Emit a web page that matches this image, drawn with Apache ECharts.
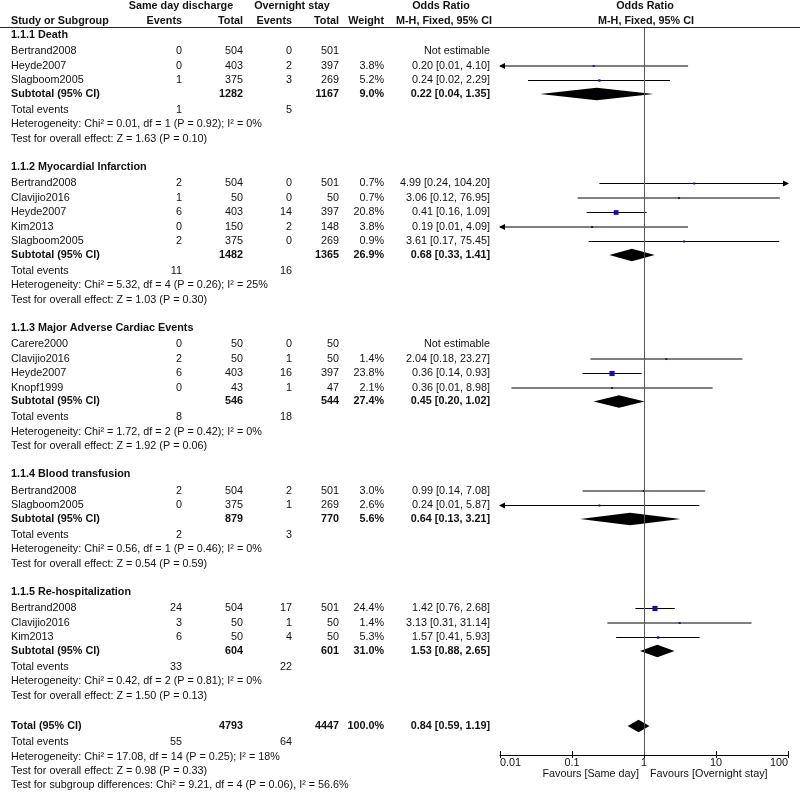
<!DOCTYPE html>
<html>
<head>
<meta charset="utf-8">
<script src="https://cdn.jsdelivr.net/npm/echarts/dist/echarts.min.js"></script>
<style>
html,body{margin:0;padding:0;background:#fff;}
#chart{width:800px;height:792px;}
</style>
</head>
<body>
<div id="chart"></div>
<script>
// ---------------- DATA ----------------
const groupTitles = ['1.1.1 Death', '1.1.2 Myocardial Infarction', '1.1.3 Major Adverse Cardiac Events', '1.1.4 Blood transfusion', '1.1.5 Re-hospitalization'];
const studyNames = [
  ['Bertrand2008', 'Heyde2007', 'Slagboom2005'],
  ['Bertrand2008', 'Clavijio2016', 'Heyde2007', 'Kim2013', 'Slagboom2005'],
  ['Carere2000', 'Clavijio2016', 'Heyde2007', 'Knopf1999'],
  ['Bertrand2008', 'Slagboom2005'],
  ['Bertrand2008', 'Clavijio2016', 'Kim2013']
];
const sameEvents = [[0, 0, 1], [2, 1, 6, 0, 2], [0, 2, 6, 0], [2, 0], [24, 3, 6]];
const sameTotal = [[504, 403, 375], [504, 50, 403, 150, 375], [50, 50, 403, 43], [504, 375], [504, 50, 50]];
const overEvents = [[0, 2, 3], [0, 0, 14, 2, 0], [0, 1, 16, 1], [2, 1], [17, 1, 4]];
const overTotal = [[501, 397, 269], [501, 50, 397, 148, 269], [50, 50, 397, 47], [501, 269], [501, 50, 50]];
const weightPct = [[null, 3.8, 5.2], [0.7, 0.7, 20.8, 3.8, 0.9], [null, 1.4, 23.8, 2.1], [3.0, 2.6], [24.4, 1.4, 5.3]];
const oddsRatio = [[null, 0.20, 0.24], [4.99, 3.06, 0.41, 0.19, 3.61], [null, 2.04, 0.36, 0.36], [0.99, 0.24], [1.42, 3.13, 1.57]];
const ciLower = [[null, 0.0098, 0.0245], [0.24, 0.12, 0.16, 0.0088, 0.17], [null, 0.18, 0.14, 0.0144], [0.14, 0.0098], [0.76, 0.31, 0.41]];
const ciUpper = [[null, 4.10, 2.29], [104.20, 76.95, 1.09, 4.09, 75.45], [null, 23.27, 0.93, 8.98], [7.08, 5.87], [2.68, 31.14, 5.93]];

const subSameTotal = [1282, 1482, 546, 879, 604];
const subOverTotal = [1167, 1365, 544, 770, 601];
const subWeight = [9.0, 26.9, 27.4, 5.6, 31.0];
const subOR = [0.22, 0.68, 0.45, 0.64, 1.53];
const subLower = [0.036, 0.33, 0.20, 0.13, 0.88];
const subUpper = [1.35, 1.41, 1.02, 3.21, 2.65];
const groupEventsSame = [1, 11, 8, 2, 33];
const groupEventsOver = [5, 16, 18, 3, 22];
const heterogeneity = [
  'Chi² = 0.01, df = 1 (P = 0.92); I² = 0%',
  'Chi² = 5.32, df = 4 (P = 0.26); I² = 25%',
  'Chi² = 1.72, df = 2 (P = 0.42); I² = 0%',
  'Chi² = 0.56, df = 1 (P = 0.46); I² = 0%',
  'Chi² = 0.42, df = 2 (P = 0.81); I² = 0%'
];
const overallEffect = ['Z = 1.63 (P = 0.10)', 'Z = 1.03 (P = 0.30)', 'Z = 1.92 (P = 0.06)', 'Z = 0.54 (P = 0.59)', 'Z = 1.50 (P = 0.13)'];

const totalSame = [4793];
const totalOver = [4447];
const totalWeight = [100.0];
const totalOR = [0.84];
const totalLower = [0.593];
const totalUpper = [1.19];
const totalEventsSame = [55];
const totalEventsOver = [64];
const totalHeterogeneity = ['Chi² = 17.08, df = 14 (P = 0.25); I² = 18%'];
const totalEffect = ['Z = 0.98 (P = 0.33)'];
const subgroupDiff = ['Chi² = 9.21, df = 4 (P = 0.06), I² = 56.6%'];

const axisTickValues = [0.01, 0.1, 1, 10, 100];
const axisTickLabels = ['0.01', '0.1', '1', '10', '100'];
const favoursLabels = ['Favours [Same day]', 'Favours [Overnight stay]'];

// ---------------- LAYOUT ----------------
const FONT = '"Liberation Sans", Arial, Helvetica, sans-serif';
const FSIZE = 10.8;
const COL = {name: 11, sameEv: 182, sameTot: 243, overEv: 292, overTot: 339, weight: 384, orText: 490,
  hdrSame: 181, hdrOver: 292, hdrOR1: 441, hdrOR2: 645};
const TEXT_COLOR = '#111';

const cells = [];
function addText(x, y, text, align, bold) { cells.push({x, y, text: String(text), align, bold: !!bold}); }
function fmtOR(o, l, u) { return o.toFixed(2) + ' [' + l.toFixed(2) + ', ' + u.toFixed(2) + ']'; }

// header
addText(COL.hdrSame, 6, 'Same day discharge', 'center', true);
addText(COL.hdrOver, 6, 'Overnight stay', 'center', true);
addText(COL.hdrOR1, 6, 'Odds Ratio', 'center', true);
addText(COL.hdrOR2, 6, 'Odds Ratio', 'center', true);
addText(COL.name, 21, 'Study or Subgroup', 'left', true);
addText(COL.sameEv, 21, 'Events', 'right', true);
addText(COL.sameTot, 21, 'Total', 'right', true);
addText(COL.overEv, 21, 'Events', 'right', true);
addText(COL.overTot, 21, 'Total', 'right', true);
addText(COL.weight, 21, 'Weight', 'right', true);
addText(COL.hdrOR1 + 3, 21, 'M-H, Fixed, 95% CI', 'center', true);
addText(COL.hdrOR2 + 1, 21, 'M-H, Fixed, 95% CI', 'center', true);

const studyPts = [];
const diamondPts = [];
let y = 35;
groupTitles.forEach((title, g) => {
  if (g > 0) y += 28;
  addText(COL.name, y, title, 'left', true);
  y += 16.5;
  studyNames[g].forEach((nm, s) => {
    addText(COL.name, y, nm, 'left');
    addText(COL.sameEv, y, sameEvents[g][s], 'right');
    addText(COL.sameTot, y, sameTotal[g][s], 'right');
    addText(COL.overEv, y, overEvents[g][s], 'right');
    addText(COL.overTot, y, overTotal[g][s], 'right');
    if (oddsRatio[g][s] == null) {
      addText(COL.orText, y, 'Not estimable', 'right');
    } else {
      addText(COL.weight, y, weightPct[g][s].toFixed(1) + '%', 'right');
      addText(COL.orText, y, fmtOR(oddsRatio[g][s], ciLower[g][s], ciUpper[g][s]), 'right');
      studyPts.push([oddsRatio[g][s], y, ciLower[g][s], ciUpper[g][s], weightPct[g][s]]);
    }
    y += 14.5;
  });
  y -= 1;
  addText(COL.name, y, 'Subtotal (95% CI)', 'left', true);
  addText(COL.sameTot, y, subSameTotal[g], 'right', true);
  addText(COL.overTot, y, subOverTotal[g], 'right', true);
  addText(COL.weight, y, subWeight[g].toFixed(1) + '%', 'right', true);
  addText(COL.orText, y, fmtOR(subOR[g], subLower[g], subUpper[g]), 'right', true);
  diamondPts.push([subOR[g], y, subLower[g], subUpper[g]]);
  y += 16;
  addText(COL.name, y, 'Total events', 'left');
  addText(COL.sameEv, y, groupEventsSame[g], 'right');
  addText(COL.overEv, y, groupEventsOver[g], 'right');
  y += 14.5;
  addText(COL.name, y, 'Heterogeneity: ' + heterogeneity[g], 'left');
  y += 14.5;
  addText(COL.name, y, 'Test for overall effect: ' + overallEffect[g], 'left');
});
y += 30;
addText(COL.name, y, 'Total (95% CI)', 'left', true);
addText(COL.sameTot, y, totalSame[0], 'right', true);
addText(COL.overTot, y, totalOver[0], 'right', true);
addText(COL.weight, y, totalWeight[0].toFixed(1) + '%', 'right', true);
addText(COL.orText, y, fmtOR(totalOR[0], totalLower[0], totalUpper[0]), 'right', true);
diamondPts.push([totalOR[0], y, totalLower[0], totalUpper[0]]);
y += 16;
addText(COL.name, y, 'Total events', 'left');
addText(COL.sameEv, y, totalEventsSame[0], 'right');
addText(COL.overEv, y, totalEventsOver[0], 'right');
y += 15;
addText(COL.name, y, 'Heterogeneity: ' + totalHeterogeneity[0], 'left');
y += 14.5;
addText(COL.name, y, 'Test for overall effect: ' + totalEffect[0], 'left');
y += 14;
addText(COL.name, y, 'Test for subgroup differences: ' + subgroupDiff[0], 'left');
// favours labels under axis
addText(639, 774, favoursLabels[0], 'right');
addText(650, 774, favoursLabels[1], 'left');

// ---------------- CHART ----------------
const AX_MIN = axisTickValues[0], AX_MAX = axisTickValues[axisTickValues.length - 1];
const chart = echarts.init(document.getElementById('chart'), null, {renderer: 'canvas'});

function renderText(params, api) {
  const c = cells[params.dataIndex];
  const p = api.coord([c.x, c.y]);
  return {type: 'text', style: {x: p[0], y: p[1], text: c.text, align: c.align, verticalAlign: 'middle',
    font: (c.bold ? 'bold ' : '') + FSIZE + 'px ' + FONT, fill: TEXT_COLOR}};
}

function renderStudy(params, api) {
  const or = api.value(0), yy = api.value(1), lo = api.value(2), hi = api.value(3), w = api.value(4);
  const a = api.coord([Math.max(lo, AX_MIN), yy]);
  const b = api.coord([Math.min(hi, AX_MAX), yy]);
  const c = api.coord([or, yy]);
  const children = [{type: 'line', shape: {x1: a[0], y1: a[1], x2: b[0], y2: b[1]}, style: {stroke: '#000', lineWidth: 1}}];
  if (lo < AX_MIN) children.push({type: 'polygon', shape: {points: [[a[0] - 1, a[1]], [a[0] + 5, a[1] - 3], [a[0] + 5, a[1] + 3]]}, style: {fill: '#000'}});
  if (hi > AX_MAX) children.push({type: 'polygon', shape: {points: [[b[0] + 1, b[1]], [b[0] - 5, b[1] - 3], [b[0] - 5, b[1] + 3]]}, style: {fill: '#000'}});
  const s = Math.max(2, Math.sqrt(w) * 1.05);
  children.push({type: 'rect', shape: {x: c[0] - s / 2, y: c[1] - s / 2, width: s, height: s}, style: {fill: '#1212a6'}});
  return {type: 'group', children};
}

function renderDiamond(params, api) {
  const or = api.value(0), yy = api.value(1), lo = api.value(2), hi = api.value(3);
  const a = api.coord([lo, yy]), b = api.coord([hi, yy]), c = api.coord([or, yy]);
  const h = 6.2;
  return {type: 'polygon', shape: {points: [[a[0], a[1]], [c[0], c[1] - h], [b[0], b[1]], [c[0], c[1] + h]]}, style: {fill: '#000'}};
}

const option = {
  animation: false,
  backgroundColor: '#fff',
  grid: [
    {left: 0, top: 0, width: 800, height: 792},
    {left: 500, top: 27, width: 288, height: 728}
  ],
  xAxis: [
    {gridIndex: 0, type: 'value', min: 0, max: 800, show: false},
    {gridIndex: 1, type: 'log', logBase: 10, min: AX_MIN, max: AX_MAX, position: 'bottom',
      axisLine: {show: true, onZero: false, lineStyle: {color: '#000', width: 1}},
      axisTick: {show: true, inside: false, length: 3, lineStyle: {color: '#000', width: 1}},
      axisLabel: {show: true, margin: 3, fontSize: FSIZE, fontFamily: FONT, color: TEXT_COLOR,
        alignMinLabel: 'left', alignMaxLabel: 'right',
        formatter: v => axisTickLabels[Math.round(Math.log10(v)) - Math.round(Math.log10(AX_MIN))]},
      splitLine: {show: false}, minorTick: {show: false}},
    {gridIndex: 1, type: 'log', logBase: 10, min: AX_MIN, max: AX_MAX, position: 'bottom',
      axisLine: {show: false, onZero: false},
      axisTick: {show: true, inside: true, length: 4, lineStyle: {color: '#000', width: 1}},
      axisLabel: {show: false}, splitLine: {show: false}}
  ],
  yAxis: [
    {gridIndex: 0, type: 'value', min: 0, max: 792, inverse: true, show: false},
    {gridIndex: 1, type: 'value', min: 27, max: 755, inverse: true, show: false}
  ],
  graphic: [
    {type: 'line', shape: {x1: 0, y1: 27.5, x2: 800, y2: 27.5}, style: {stroke: '#222', lineWidth: 1}, z: 10}
  ],
  series: [
    {type: 'custom', xAxisIndex: 0, yAxisIndex: 0, data: cells.map((c, i) => [c.x, c.y]), renderItem: renderText, silent: true, z: 5},
    {type: 'custom', xAxisIndex: 1, yAxisIndex: 1, data: studyPts, renderItem: renderStudy, silent: true, z: 3,
      encode: {x: 0, y: 1}},
    {type: 'custom', xAxisIndex: 1, yAxisIndex: 1, data: diamondPts, renderItem: renderDiamond, silent: true, z: 3,
      encode: {x: 0, y: 1},
      markLine: {silent: true, symbol: ['none', 'none'], label: {show: false},
        lineStyle: {color: '#555', width: 1, type: 'solid'}, data: [{xAxis: 1}]}}
  ]
};
chart.setOption(option);
</script>
</body>
</html>
